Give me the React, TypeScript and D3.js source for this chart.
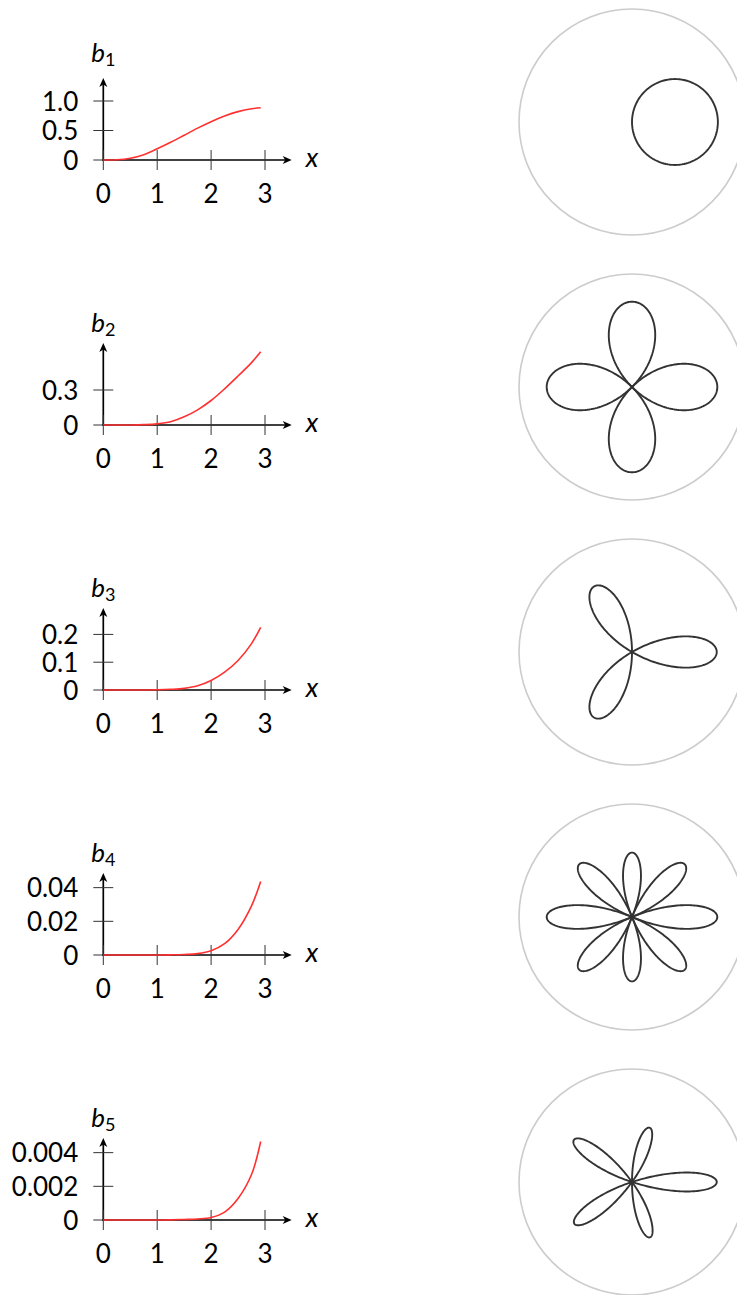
import React from "react";
import * as d3 from "d3";

// ---- radial profiles b_n(x), sampled on a common x grid ----
const xGrid = [0, 0.25, 0.5, 0.75, 1, 1.25, 1.5, 1.75, 2, 2.25, 2.5, 2.75, 2.92];
const b1 = [0, 0.004, 0.03, 0.09, 0.19, 0.3, 0.42, 0.54, 0.65, 0.745, 0.82, 0.868, 0.885];
const b2 = [0, 0, 0.0005, 0.003, 0.01, 0.028, 0.07, 0.13, 0.21, 0.31, 0.42, 0.535, 0.628];
const b3 = [0, 0, 0, 0.0002, 0.0008, 0.0025, 0.006, 0.015, 0.034, 0.064, 0.106, 0.167, 0.225];
const b4 = [0, 0, 0, 0, 0.00003, 0.0001, 0.0003, 0.0008, 0.0025, 0.0067, 0.0152, 0.0292, 0.0437];
const b5 = [0, 0, 0, 0, 0, 0.00001, 0.00003, 0.00006, 0.00015, 0.00047, 0.00128, 0.0027, 0.00466];

const orders = ["1", "2", "3", "4", "5"];
const yMax = [1.39, 0.703, 0.295, 0.0487, 0.00487];

const xTicks = [0, 1, 2, 3];
const yTicks1 = [0, 0.5, 1.0];
const yTicks2 = [0, 0.3];
const yTicks3 = [0, 0.1, 0.2];
const yTicks4 = [0, 0.02, 0.04];
const yTicks5 = [0, 0.002, 0.004];
const yTickLabels1 = ["0", "0.5", "1.0"];
const yTickLabels2 = ["0", "0.3"];
const yTickLabels3 = ["0", "0.1", "0.2"];
const yTickLabels4 = ["0", "0.02", "0.04"];
const yTickLabels5 = ["0", "0.002", "0.004"];

// ---- angular patterns: rose petals (tip angle in degrees, relative length) ----
const roseFold = [1, 2, 3, 4, 5];
const petalAngles1 = [0];
const petalLengths1 = [0.76];
const petalAngles2 = [0, 90, 180, 270];
const petalLengths2 = [0.755, 0.755, 0.755, 0.755];
const petalAngles3 = [0, 120, 240];
const petalLengths3 = [0.75, 0.67, 0.67];
const petalAngles4 = [0, 45, 90, 135, 180, 225, 270, 315];
const petalLengths4 = [0.755, 0.66, 0.57, 0.66, 0.755, 0.66, 0.57, 0.66];
const petalAngles5 = [0, 72, 144, 216, 288];
const petalLengths5 = [0.75, 0.505, 0.635, 0.63, 0.515];

const profiles = [b1, b2, b3, b4, b5];
const yTicksAll = [yTicks1, yTicks2, yTicks3, yTicks4, yTicks5];
const yTickLabelsAll = [yTickLabels1, yTickLabels2, yTickLabels3, yTickLabels4, yTickLabels5];
const petalAnglesAll = [petalAngles1, petalAngles2, petalAngles3, petalAngles4, petalAngles5];
const petalLengthsAll = [petalLengths1, petalLengths2, petalLengths3, petalLengths4, petalLengths5];

// ---- layout ----
const W = 737;
const H = 1295;
const rowStep = 265;
const axisY0 = 160;
const originX = 103.3;
const unitX = 53.9;
const axisHeight = 82;
const axisEndX = 291.7;
const titleRaise = [98.3, 93.3, 93.3, 93.3, 93.3];
const polarCx = 632;
const polarCy0 = 122;
const polarR = 113;
const FONT = "Lato, 'DejaVu Sans', sans-serif";

function Arrow({ x, y, dir }: { x: number; y: number; dir: "right" | "up" }) {
  const rot = dir === "right" ? 0 : -90;
  return (
    <path
      d="M0,0 L-9,-4 L-6.5,0 L-9,4 Z"
      fill="#000"
      transform={`translate(${x},${y}) rotate(${rot})`}
    />
  );
}

function ProfilePlot({ i }: { i: number }) {
  const oy = axisY0 + i * rowStep;
  const x = d3.scaleLinear().domain([0, 3]).range([originX, originX + 3 * unitX]);
  const y = d3.scaleLinear().domain([0, yMax[i]]).range([oy, oy - axisHeight]);
  const data = xGrid.map((xv, k) => [xv, profiles[i][k]] as [number, number]);
  const line = d3
    .line<[number, number]>()
    .x((d) => x(d[0]))
    .y((d) => y(d[1]))
    .curve(d3.curveCatmullRom.alpha(0.5));
  const topY = oy - axisHeight;
  return (
    <g>
      {/* axes */}
      <line x1={originX - 1} y1={oy} x2={axisEndX - 4} y2={oy} stroke="#000" strokeWidth={1.7} />
      <line x1={originX} y1={oy + 1} x2={originX} y2={topY + 4} stroke="#000" strokeWidth={1.7} />
      <Arrow x={axisEndX} y={oy} dir="right" />
      <Arrow x={originX} y={topY} dir="up" />
      {/* ticks */}
      {xTicks.map((t) => (
        <line key={"xt" + t} x1={x(t)} x2={x(t)} y1={oy - 10} y2={oy + 10} stroke="#333" strokeWidth={1} />
      ))}
      {yTicksAll[i].map((t) => (
        <line key={"yt" + t} x1={originX - 10} x2={originX + 10} y1={y(t)} y2={y(t)} stroke="#333" strokeWidth={1} />
      ))}
      {/* tick labels */}
      {xTicks.map((t) => (
        <text key={"xl" + t} x={x(t)} y={oy + 43} fontSize={26} textAnchor="middle" fontFamily={FONT} fill="#000">
          {String(t)}
        </text>
      ))}
      {yTicksAll[i].map((t, k) => (
        <text key={"yl" + t} x={originX - 25} y={y(t) + 9.5} fontSize={26} textAnchor="end" fontFamily={FONT} fill="#000">
          {yTickLabelsAll[i][k]}
        </text>
      ))}
      {/* axis labels */}
      <text x={axisEndX + 14} y={oy + 7} fontSize={27} fontStyle="italic" fontFamily={FONT} fill="#000">
        x
      </text>
      <text x={originX - 12} y={oy - titleRaise[i]} fontSize={26} fontStyle="italic" fontFamily={FONT} fill="#000">
        b
        <tspan fontStyle="normal" fontSize={18} dy={4}>
          {orders[i]}
        </tspan>
      </text>
      {/* profile */}
      <path d={line(data) || ""} fill="none" stroke="#ff3030" strokeWidth={1.6} />
    </g>
  );
}

function RosePlot({ i }: { i: number }) {
  const cy = polarCy0 + i * rowStep;
  const r = d3.scaleLinear().domain([0, 1]).range([0, polarR]);
  const k = roseFold[i];
  const half = Math.PI / (2 * k);
  const steps = 120;
  const radial = d3
    .lineRadial<{ theta: number; rho: number }>()
    .angle((d) => Math.PI / 2 - d.theta)
    .radius((d) => r(d.rho))
    .curve(d3.curveLinear);
  const petals = petalAnglesAll[i].map((deg, p) => {
    const t0 = (deg * Math.PI) / 180;
    const L = petalLengthsAll[i][p];
    const pts = d3.range(steps + 1).map((s) => {
      const phi = -half + (2 * half * s) / steps;
      return { theta: t0 + phi, rho: L * Math.max(0, Math.cos(k * phi)) };
    });
    return radial(pts) || "";
  });
  return (
    <g transform={`translate(${polarCx},${cy})`}>
      <circle r={polarR} fill="none" stroke="#cccccc" strokeWidth={1.6} />
      {petals.map((d, p) => (
        <path key={p} d={d} fill="none" stroke="#333" strokeWidth={1.9} strokeLinejoin="round" />
      ))}
    </g>
  );
}

export default function App() {
  return (
    <svg
      width={W}
      height={H}
      viewBox={`0 0 ${W} ${H}`}
      style={{ position: "absolute", left: 0, top: 0, background: "#fff" }}
    >
      {orders.map((_, i) => (
        <g key={i}>
          <ProfilePlot i={i} />
          <RosePlot i={i} />
        </g>
      ))}
    </svg>
  );
}
